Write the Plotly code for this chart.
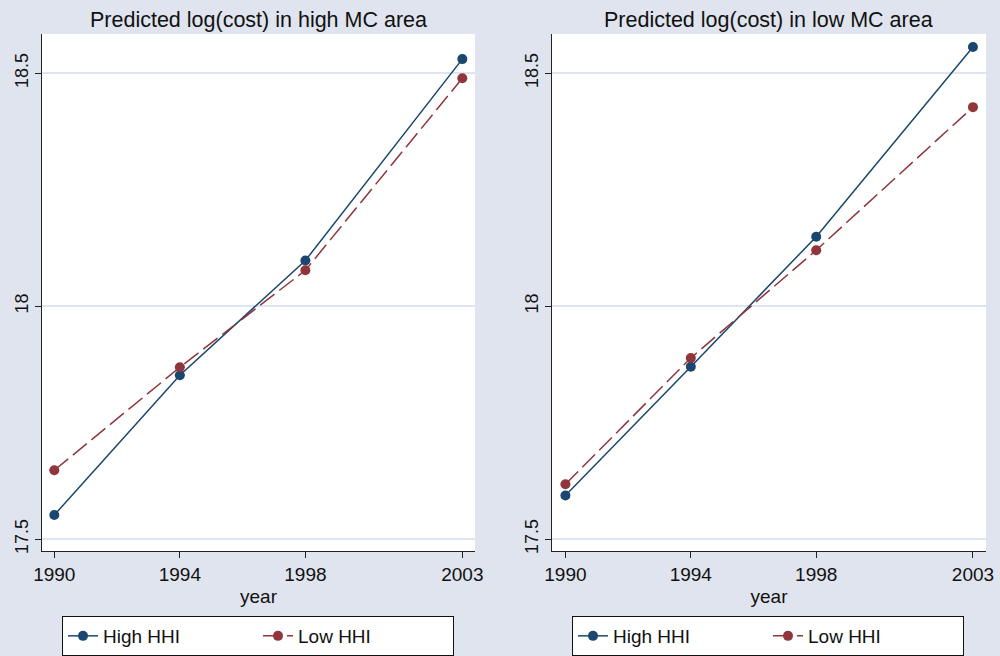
import plotly.graph_objects as go

years = [1990, 1994, 1998, 2003]
year_ticks = ["1990", "1994", "1998", "2003"]
y_ticks = [17.5, 18, 18.5]
y_tick_labels = ["17.5", "18", "18.5"]

high_mc_high_hhi = [17.552, 17.852, 18.098, 18.530]
high_mc_low_hhi = [17.648, 17.869, 18.077, 18.489]
low_mc_high_hhi = [17.594, 17.870, 18.149, 18.556]
low_mc_low_hhi = [17.618, 17.889, 18.120, 18.427]

titles = ["Predicted log(cost) in high MC area", "Predicted log(cost) in low MC area"]
series_names = ["High HHI", "Low HHI"]

NAVY = "#1a476f"
MAROON = "#90353b"
BG = "#dfe4ee"
GRID = "#dfe5f0"
FONT = "Liberation Sans, Arial, sans-serif"

fig = go.Figure()

panels = [
    (high_mc_high_hhi, high_mc_low_hhi, "x", "y", "legend"),
    (low_mc_high_hhi, low_mc_low_hhi, "x2", "y2", "legend2"),
]
for hi, lo, xa, ya, lg in panels:
    fig.add_trace(go.Scatter(
        x=years, y=hi, mode="lines+markers", name=series_names[0],
        line=dict(color=NAVY, width=1.5),
        marker=dict(color=NAVY, size=10),
        xaxis=xa, yaxis=ya, legend=lg))
    fig.add_trace(go.Scatter(
        x=years, y=lo, mode="lines+markers", name=series_names[1],
        line=dict(color=MAROON, width=1.5, dash="18px,6px"),
        marker=dict(color=MAROON, size=10),
        xaxis=xa, yaxis=ya, legend=lg))

H = 656.0
W = 1000.0
ytop = 1 - 34 / H
ybot = 1 - 552 / H

common_x = dict(
    tickmode="array", tickvals=years, ticktext=year_ticks,
    showline=True, linecolor="#222222", linewidth=1.2,
    ticks="outside", ticklen=6, tickcolor="#222222", tickwidth=1.2,
    showgrid=False, zeroline=False, automargin=False,
    tickfont=dict(family=FONT, size=19, color="#111111"),
    title=dict(text="year", font=dict(family=FONT, size=19, color="#111111"), standoff=5),
)
common_y = dict(
    tickmode="array", tickvals=y_ticks, ticktext=y_tick_labels,
    range=[17.4745, 18.584],
    showline=True, linecolor="#222222", linewidth=1.2,
    ticks="outside", ticklen=6, tickcolor="#222222", tickwidth=1.2,
    showgrid=True, gridcolor=GRID, gridwidth=1.5, zeroline=False,
    tickangle=-90, automargin=False,
    tickfont=dict(family=FONT, size=18, color="#111111"),
)

legend_common = dict(
    orientation="h", bgcolor="white", bordercolor="#111111", borderwidth=1,
    font=dict(family=FONT, size=19, color="#111111"),
    xanchor="center", yanchor="top", y=1 - 617 / H,
    entrywidth=150,
)

fig.update_layout(
    width=1000, height=656,
    margin=dict(l=0, r=0, t=0, b=0),
    paper_bgcolor=BG, plot_bgcolor="white",
    showlegend=True,
    xaxis=dict(domain=[42 / W, 475 / W], range=[1989.608, 2003.404], anchor="y", **common_x),
    yaxis=dict(domain=[ybot, ytop], anchor="x", **common_y),
    xaxis2=dict(domain=[552 / W, 986 / W], range=[1989.572, 2003.416], anchor="y2", **common_x),
    yaxis2=dict(domain=[ybot, ytop], anchor="x2", **common_y),
    legend=dict(x=258 / W, **legend_common),
    legend2=dict(x=768 / W, **legend_common),
    annotations=[
        dict(text=titles[0], x=258 / W, y=1 - 20 / H, xref="paper", yref="paper",
             showarrow=False, font=dict(family=FONT, size=21.5, color="#111111"),
             xanchor="center", yanchor="middle"),
        dict(text=titles[1], x=768 / W, y=1 - 20 / H, xref="paper", yref="paper",
             showarrow=False, font=dict(family=FONT, size=21.5, color="#111111"),
             xanchor="center", yanchor="middle"),
    ],
)

fig.write_html(
    "out.html",
    config={"displayModeBar": False},
    post_script="document.body.style.margin='0';document.body.style.padding='0';"
                "document.body.style.overflow='hidden';document.body.style.background='" + BG + "';",
)
